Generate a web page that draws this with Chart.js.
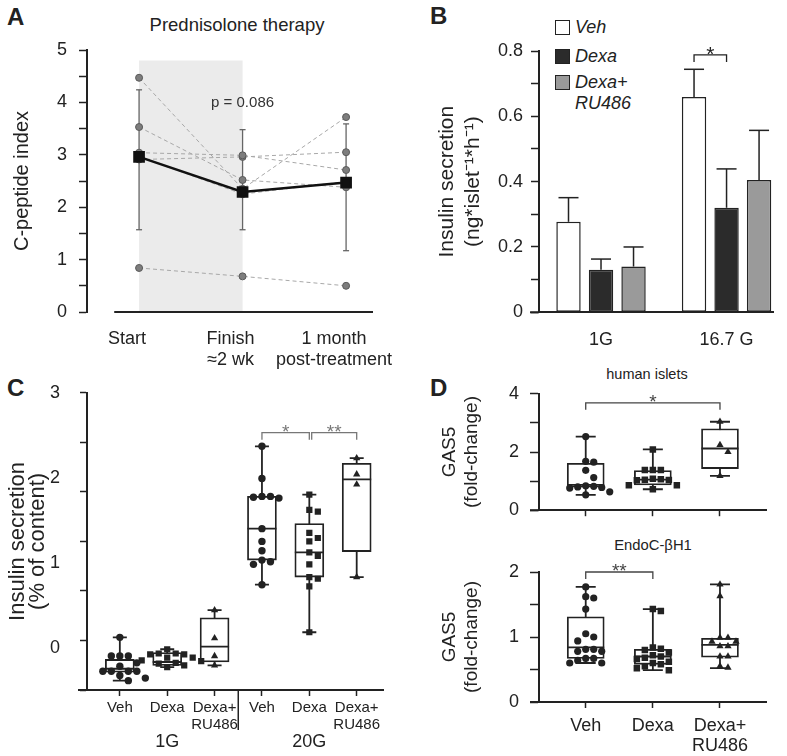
<!DOCTYPE html>
<html lang="en">
<head>
<meta charset="UTF-8">
<title>Glucocorticoids and insulin secretion</title>
<style>
    html, body { margin: 0; padding: 0; background: #fff; }
    body { width: 787px; height: 756px; position: relative; overflow: hidden;
           font-family: "Liberation Sans", Arial, sans-serif; color: #222; }
    canvas { position: absolute; }
    .letter { position: absolute; font-weight: bold; font-size: 24px; line-height: 24px; }
    .note { position: absolute; white-space: nowrap; transform: translate(-50%, -50%); line-height: 1; }
    .leg { position: absolute; left: 555px; font-style: italic; font-size: 18px; line-height: 21px; }
    .leg span { position: absolute; left: 0; width: 13px; height: 13px; border: 1.5px solid #222; }
    .leg div { margin-left: 20px; }
</style>
<script src="https://cdn.jsdelivr.net/npm/chart.js"></script>
</head>
<body>
    <div class="letter" style="left:7px;top:5px">A</div>
    <div class="letter" style="left:430px;top:4px">B</div>
    <div class="letter" style="left:7px;top:376px">C</div>
    <div class="letter" style="left:430px;top:376px">D</div>

    <div class="note" style="left:237px;top:25px;font-size:18.5px">Prednisolone therapy</div>
    <div class="note" style="left:647px;top:374px;font-size:14.5px">human islets</div>
    <div class="note" style="left:653px;top:545px;font-size:14.8px">EndoC-βH1</div>

    <div class="leg" style="top:17px"><span style="top:3px;background:#fff"></span><div>Veh</div></div>
    <div class="leg" style="top:46px"><span style="top:3px;background:#2b2b2b"></span><div>Dexa</div></div>
    <div class="leg" style="top:72px"><span style="top:3px;background:#9a9a9a"></span><div>Dexa+<br>RU486</div></div>

<script>
// ---------- A: C-peptide index during prednisolone ----------
const aLabels = [['Start'], ['Finish', '≈2 wk'], ['1 month', 'post-treatment']];
const aPatients = [
    [4.47, 2.35, 3.72],
    [3.53, 2.52, 2.38],
    [3.04, 2.99, 2.71],
    [2.91, 2.96, 3.05],
    [2.97, 2.25, 2.49],
    [0.84, 0.68, 0.50]
];
const aMean = [2.96, 2.29, 2.47];
const aErrLow = [1.57, 1.57, 1.17];
const aErrHigh = [4.24, 3.48, 3.59];

// ---------- B: insulin secretion, mean + SEM ----------
const bGroups = ['1G', '16.7 G'];
const bVeh = [0.277, 0.659];
const bVehErr = [0.351, 0.744];
const bDexa = [0.130, 0.320];
const bDexaErr = [0.163, 0.439];
const bRu = [0.140, 0.405];
const bRuErr = [0.200, 0.557];

// ---------- C: insulin secretion, box plots (min, q1, median, q3, max) ----------
const cLabels = ['Veh', 'Dexa', ['Dexa+', 'RU486'], 'Veh', 'Dexa', ['Dexa+', 'RU486']];
const cGroups = ['1G', '20G'];
const cBoxes = [
    [-0.39, -0.29, -0.25, -0.14, 0.12],
    [-0.23, -0.21, -0.17, -0.06, -0.02],
    [-0.21, -0.17, 0.01, 0.35, 0.44],
    [0.74, 1.03, 1.40, 1.78, 2.37],
    [0.18, 0.83, 1.12, 1.46, 1.80],
    [0.83, 1.13, 1.98, 2.17, 2.23]
];
const cPoints = [
    [0.12, -0.10, -0.10, -0.10, -0.18, -0.22, -0.28, -0.28, -0.28, -0.28, -0.33, -0.36, -0.39],
    [-0.02, -0.07, -0.07, -0.08, -0.08, -0.12, -0.12, -0.15, -0.16, -0.18, -0.19, -0.21, -0.23],
    [0.44, 0.11, -0.10, -0.21],
    [2.37, 1.99, 1.78, 1.78, 1.77, 1.76, 1.40, 1.25, 1.14, 1.03, 1.01, 0.98, 0.74],
    [1.80, 1.62, 1.60, 1.35, 1.29, 1.25, 1.12, 1.08, 0.98, 0.83, 0.81, 0.72, 0.18],
    [2.23, 2.04, 1.92, 0.83]
];

// ---------- D: GAS5 fold-change ----------
const dLabels = ['Veh', 'Dexa', ['Dexa+', 'RU486']];
const dTopBoxes = [
    [0.53, 0.79, 0.87, 1.61, 2.53],
    [0.72, 0.87, 1.05, 1.36, 2.09],
    [1.18, 1.43, 2.12, 2.80, 3.04]
];
const dTopPoints = [
    [2.53, 1.68, 1.65, 1.37, 1.12, 0.84, 0.82, 0.80, 0.78, 0.76, 0.63, 0.53],
    [2.09, 1.38, 1.38, 1.38, 1.08, 1.06, 1.05, 1.04, 1.03, 0.86, 0.86, 0.72],
    [3.04, 2.24, 2.00, 1.18]
];
const dBotBoxes = [
    [0.60, 0.67, 0.84, 1.31, 1.77],
    [0.49, 0.58, 0.70, 0.81, 1.43],
    [0.52, 0.69, 0.88, 0.98, 1.81]
];
const dBotPoints = [
    [1.77, 1.62, 1.60, 1.43, 1.05, 1.00, 0.94, 0.81, 0.81, 0.78, 0.78, 0.67, 0.67, 0.64, 0.60, 0.60],
    [1.43, 1.40, 0.84, 0.82, 0.80, 0.76, 0.72, 0.70, 0.68, 0.66, 0.62, 0.60, 0.58, 0.55, 0.52, 0.49],
    [1.81, 1.63, 0.99, 0.99, 0.93, 0.93, 0.86, 0.86, 0.70, 0.70, 0.55, 0.53]
];

// significance brackets: category values and height in data units
const cBrackets = [{from: 3, to: 4, at: 2.53, text: '*'}, {from: 4.05, to: 5, at: 2.53, text: '**'}];
const dTopBrackets = [{from: 0, to: 2, at: 3.69, text: '*'}];
const dBotBrackets = [{from: 0, to: 1, at: 2.0, text: '**'}];

const INK = '#222';
const FONT = '"Liberation Sans", Arial, sans-serif';
Chart.defaults.font.family = FONT;
Chart.defaults.color = INK;
Chart.defaults.animation = false;
Chart.defaults.events = [];
Chart.defaults.responsive = false;
Chart.defaults.plugins.legend.display = false;
Chart.defaults.plugins.tooltip.enabled = false;

function canvasAt(left, top, w, h) {
    const c = document.createElement('canvas');
    c.width = w;
    c.height = h;
    c.style.left = left + 'px';
    c.style.top = top + 'px';
    document.body.appendChild(c);
    return c;
}

function seg(ctx, x1, y1, x2, y2, color, w) {
    ctx.save();
    ctx.strokeStyle = color;
    ctx.lineWidth = w;
    ctx.beginPath();
    ctx.moveTo(x1, y1);
    ctx.lineTo(x2, y2);
    ctx.stroke();
    ctx.restore();
}

function write(ctx, s, x, y, size, color) {
    ctx.save();
    ctx.font = size + 'px ' + FONT;
    ctx.fillStyle = color || INK;
    ctx.textAlign = 'center';
    ctx.textBaseline = 'middle';
    ctx.fillText(s, x, y);
    ctx.restore();
}

// the x axis line runs a little past the y axis on the left
function axisStub(chart) {
    const a = chart.chartArea;
    seg(chart.ctx, a.left - 9, a.bottom, a.left, a.bottom, INK, 2);
}

// bracket with star above, y is the pixel of the top bar
function bracket(ctx, x1, x2, y, text, color, size) {
    ctx.save();
    ctx.strokeStyle = color;
    ctx.lineWidth = 1.3;
    ctx.beginPath();
    ctx.moveTo(x1, y + 7);
    ctx.lineTo(x1, y);
    ctx.lineTo(x2, y);
    ctx.lineTo(x2, y + 7);
    ctx.stroke();
    ctx.font = size + 'px ' + FONT;
    ctx.fillStyle = color;
    ctx.textAlign = 'center';
    ctx.textBaseline = 'alphabetic';
    ctx.fillText(text, (x1 + x2) / 2, y - 6 + 0.57 * size);
    ctx.restore();
}

function drawBrackets(chart, list, color, size) {
    const {ctx, scales: {x, y}} = chart;
    list.forEach(b => bracket(ctx, x.getPixelForValue(b.from), x.getPixelForValue(b.to),
        y.getPixelForValue(b.at), b.text, color, size));
}

// spread points of one box sideways so they don't overlap
function swarm(chart, center, values, gap) {
    const xs = chart.scales.x, ys = chart.scales.y;
    const perUnit = Math.abs(xs.getPixelForValue(1) - xs.getPixelForValue(0));
    const placed = [];
    return values.map(v => {
        const py = ys.getPixelForValue(v);
        let off = 0;
        for (let k = 0; k < 40; k++) {
            const cand = k === 0 ? 0 : (k % 2 ? 1 : -1) * Math.ceil(k / 2) * gap;
            if (placed.every(p => Math.hypot(p.x - cand, p.y - py) >= gap - 0.5)) { off = cand; break; }
        }
        placed.push({x: off, y: py});
        return {x: center + off / perUnit, y: v};
    });
}

function applySwarm(chart, gap) {
    chart.data.datasets.forEach(ds => {
        if (ds.swarm === undefined) return;
        ds.data = swarm(chart, ds.swarm, ds.data.map(d => d.y), gap);
    });
    chart.update('none');
}

const shapes = ['circle', 'rect', 'triangle'];

function boxDatasets(boxes, points, st) {
    const whisk = [];
    boxes.forEach((b, i) => whisk.push({x: i, y: b[0]}, {x: i, y: b[4]}, {x: i, y: null}));
    const ds = [
        {type: 'line', data: whisk, borderColor: INK, borderWidth: st.lw, pointRadius: 0, spanGaps: false, order: 5},
        {type: 'bar', data: boxes.map((b, i) => ({x: i, y: [b[1], b[3]]})), backgroundColor: '#fff',
         borderColor: INK, borderWidth: st.lw, borderSkipped: false, barThickness: st.boxW, order: 4},
        {type: 'line', showLine: false, data: boxes.map((b, i) => ({x: i, y: b[2]})), pointStyle: 'line',
         pointRadius: st.boxW / 2, pointBorderWidth: st.lw, pointBorderColor: INK, order: 3},
        {type: 'line', showLine: false, data: boxes.flatMap((b, i) => [{x: i, y: b[0]}, {x: i, y: b[4]}]),
         pointStyle: 'line', pointRadius: st.capW / 2, pointBorderWidth: st.lw, pointBorderColor: INK, order: 3}
    ];
    points.forEach((p, i) => {
        const shape = shapes[i % 3];
        ds.push({type: 'line', showLine: false, swarm: i, data: p.map(v => ({x: i, y: v})),
                 pointStyle: shape, pointRadius: st.r[shape], pointBackgroundColor: INK,
                 pointBorderColor: INK, pointBorderWidth: 0, order: 1});
    });
    return ds;
}

function categoryX(labels, min, max, o) {
    return Object.assign({
        type: 'linear', min: min, max: max, offset: false,
        afterBuildTicks: s => { s.ticks = labels.map((_, i) => ({value: i})); },
        grid: {display: true, drawOnChartArea: false, offset: false, tickLength: 6, tickColor: INK, tickWidth: 1.5},
        border: {color: INK, width: 2},
        ticks: {autoSkip: false, maxRotation: 0, padding: 4, font: {size: 18}, callback: v => labels[v]}
    }, o);
}

// ---------- Panel A ----------
const aExtras = {
    id: 'aExtras',
    beforeDatasetsDraw(chart) {
        const {ctx, scales: {x, y}, chartArea: a} = chart;
        ctx.save();
        ctx.fillStyle = '#ebebeb';
        const x0 = x.getPixelForValue(0), x1 = x.getPixelForValue(1), top = y.getPixelForValue(4.8);
        ctx.fillRect(x0, top, x1 - x0, y.getPixelForValue(0) - top);
        ctx.restore();
        seg(ctx, x.getPixelForValue(-0.24), a.bottom, a.right, a.bottom, INK, 2);
        aMean.forEach((_, i) => {
            const px = x.getPixelForValue(i);
            const lo = y.getPixelForValue(aErrLow[i]), hi = y.getPixelForValue(aErrHigh[i]);
            seg(ctx, px, lo, px, hi, '#666', 1.3);
            seg(ctx, px - 3, lo, px + 3, lo, '#666', 1.3);
            seg(ctx, px - 3, hi, px + 3, hi, '#666', 1.3);
        });
    },
    afterDraw(chart) {
        const {ctx, scales: {x, y}} = chart;
        write(ctx, 'p = 0.086', x.getPixelForValue(1), y.getPixelForValue(4.0), 15, '#333');
    }
};

new Chart(canvasAt(0, 0, 430, 385), {
    type: 'line',
    data: {
        datasets: [
            ...aPatients.map(p => ({
                data: p.map((v, i) => ({x: i, y: v})),
                borderColor: '#a8a8a8', borderWidth: 1, borderDash: [4, 3],
                pointRadius: 3.5, pointBackgroundColor: '#7d7d7d', pointBorderColor: '#5a5a5a', pointBorderWidth: 1,
                order: 2
            })),
            {
                data: aMean.map((v, i) => ({x: i, y: v})),
                borderColor: '#111', borderWidth: 2.5,
                pointStyle: 'rect', pointRadius: 6.5, pointBackgroundColor: '#111', pointBorderColor: '#111',
                order: 1
            }
        ]
    },
    options: {
        layout: {padding: {left: 0, top: 50, right: 57, bottom: 0}},
        scales: {
            x: {
                type: 'linear', min: -0.503, max: 2.26,
                afterBuildTicks: s => { s.ticks = aLabels.map((_, i) => ({value: i})); },
                afterFit: s => { s.height = 73; },
                grid: {display: false}, border: {display: false},
                ticks: {autoSkip: false, maxRotation: 0, padding: 8, labelOffset: -12, font: {size: 18},
                        callback: v => aLabels[v]}
            },
            y: {
                min: 0, max: 5,
                afterFit: s => { s.width = 87; },
                ticks: {stepSize: 0.5, padding: 12, font: {size: 18}, callback: v => Number.isInteger(v) ? v : ''},
                grid: {drawOnChartArea: false, tickLength: 8, tickColor: INK, tickWidth: 1.5},
                border: {color: INK, width: 2},
                title: {display: true, text: 'C-peptide index', font: {size: 20}, padding: {top: 10, bottom: 0}}
            }
        }
    },
    plugins: [aExtras]
});

// ---------- Panel B ----------
const bErrors = [bVehErr, bDexaErr, bRuErr];
const bExtras = {
    id: 'bExtras',
    afterDatasetsDraw(chart) {
        const {ctx, scales: {y}} = chart;
        bErrors.forEach((errs, d) => {
            chart.getDatasetMeta(d).data.forEach((bar, j) => {
                const hi = y.getPixelForValue(errs[j]);
                seg(ctx, bar.x, bar.y, bar.x, hi, INK, 1.5);
                seg(ctx, bar.x - 10, hi, bar.x + 10, hi, INK, 1.5);
            });
        });
        const v = chart.getDatasetMeta(0).data[1], dx = chart.getDatasetMeta(1).data[1];
        bracket(ctx, v.x, dx.x, y.getPixelForValue(0.788), '*', INK, 21);
        axisStub(chart);
    }
};

const bBar = (vals, color) => ({
    data: vals.map((v, i) => ({x: i, y: v})),
    backgroundColor: color, borderColor: INK, borderWidth: 1.5, borderSkipped: false,
    categoryPercentage: 0.777, barPercentage: 0.75
});

new Chart(canvasAt(390, 0, 397, 385), {
    type: 'bar',
    data: {datasets: [bBar(bVeh, '#fff'), bBar(bDexa, '#2b2b2b'), bBar(bRu, '#9a9a9a')]},
    options: {
        layout: {padding: {left: 0, top: 51, right: 14, bottom: 0}},
        scales: {
            x: categoryX(bGroups, -0.494, 1.37, {
                afterFit: s => { s.height = 72.7; },
                grid: {display: false},
                ticks: {autoSkip: false, maxRotation: 0, padding: 9, font: {size: 18}, callback: v => bGroups[v]}
            }),
            y: {
                min: 0, max: 0.8,
                afterFit: s => { s.width = 149; },
                ticks: {stepSize: 0.1, padding: 8, font: {size: 18},
                        callback: v => { const t = Math.round(v * 10); return t % 2 ? '' : (t === 0 ? '0' : (t / 10).toFixed(1)); }},
                grid: {drawOnChartArea: false, tickLength: 8, tickColor: INK, tickWidth: 1.5},
                border: {color: INK, width: 2},
                title: {display: true, text: ['Insulin secretion', '(ng*islet⁻¹*h⁻¹)'], font: {size: 21, lineHeight: 1.24},
                        padding: {top: 44, bottom: 0}}
            }
        }
    },
    plugins: [bExtras]
});

// ---------- Panel C ----------
const cExtras = {
    id: 'cExtras',
    afterDraw(chart) {
        const {ctx, scales: {x}, chartArea: a} = chart;
        const sx = x.getPixelForValue(2.5);
        seg(ctx, sx, a.bottom, sx, a.bottom + 40, INK, 1.5);
        cGroups.forEach((g, k) => write(ctx, g, x.getPixelForValue(1 + 3 * k), a.bottom + 52, 18));
        drawBrackets(chart, cBrackets, '#777', 19);
        axisStub(chart);
    }
};

const cChart = new Chart(canvasAt(0, 370, 400, 386), {
    type: 'bar',
    data: {datasets: boxDatasets(cBoxes, cPoints, {lw: 1.8, boxW: 29, capW: 14, r: {circle: 3.7, rect: 4.4, triangle: 4.2}})},
    options: {
        layout: {padding: {left: 0, top: 15, right: 0, bottom: 0}},
        scales: {
            x: categoryX(cLabels, -0.693, 5.57, {
                afterFit: s => { s.height = 66; },
                ticks: {autoSkip: false, maxRotation: 0, padding: 3, font: {size: 15, lineHeight: 1.15}, callback: v => cLabels[v]}
            }),
            y: {
                min: -0.5, max: 3, weight: 1,
                afterBuildTicks: s => { s.ticks = [0, 1, 2, 3].map(v => ({value: v})); },
                afterFit: s => { s.width = 80; },
                grid: {display: false}, border: {display: false},
                ticks: {padding: 12, font: {size: 18}},
                title: {display: true, text: ['Insulin secretion', '(% of content)'], font: {size: 22, lineHeight: 0.95},
                        padding: {top: 7, bottom: 0}}
            },
            yt: {
                position: 'left', min: 0, max: 3, weight: 0,
                afterFit: s => { s.width = 7; },
                ticks: {display: false, stepSize: 0.5},
                grid: {drawOnChartArea: false, tickLength: 7, tickColor: INK, tickWidth: 1.5},
                border: {color: INK, width: 2}
            }
        }
    },
    plugins: [cExtras]
});
applySwarm(cChart, 8.5);

// ---------- Panel D ----------
function gasY(max, step, labelEvery, width) {
    return {
        min: 0, max: max,
        afterFit: s => { s.width = width; },
        ticks: {stepSize: step, padding: 11, font: {size: 18},
                callback: v => (Math.abs(v / labelEvery - Math.round(v / labelEvery)) < 1e-6 ? v : '')},
        grid: {drawOnChartArea: false, tickLength: 9, tickColor: INK, tickWidth: 1.5},
        border: {color: INK, width: 2},
        title: {display: true, text: ['GAS5', '(fold-change)'], font: {size: 19, lineHeight: 1.15},
                padding: {top: 39, bottom: 0}}
    };
}
const dStyle = {lw: 1.8, boxW: 37, capW: 20, r: {circle: 3.6, rect: 4.6, triangle: 4.2}};

const dTop = new Chart(canvasAt(400, 372, 387, 160), {
    type: 'bar',
    data: {datasets: boxDatasets(dTopBoxes, dTopPoints, dStyle)},
    options: {
        layout: {padding: {left: 0, top: 14, right: 19, bottom: 7}},
        scales: {
            x: categoryX(dLabels, -0.696, 2.696, {
                afterFit: s => { s.height = 8; },
                ticks: {display: false}
            }),
            y: gasY(4, 1, 2, 139)
        }
    },
    plugins: [{id: 'dTopExtras', afterDraw: c => { drawBrackets(c, dTopBrackets, '#444', 19); axisStub(c); }}]
});
applySwarm(dTop, 8);

const dBot = new Chart(canvasAt(400, 540, 387, 216), {
    type: 'bar',
    data: {datasets: boxDatasets(dBotBoxes, dBotPoints, dStyle)},
    options: {
        layout: {padding: {left: 0, top: 32, right: 19, bottom: 0}},
        scales: {
            x: categoryX(dLabels, -0.696, 2.696, {
                afterFit: s => { s.height = 54; },
                ticks: {autoSkip: false, maxRotation: 0, padding: 8, font: {size: 18, lineHeight: 1.1}, callback: v => dLabels[v]}
            }),
            y: gasY(2, 0.5, 1, 139)
        }
    },
    plugins: [{id: 'dBotExtras', afterDraw: c => { drawBrackets(c, dBotBrackets, '#444', 19); axisStub(c); }}]
});
applySwarm(dBot, 8);
</script>
</body>
</html>
